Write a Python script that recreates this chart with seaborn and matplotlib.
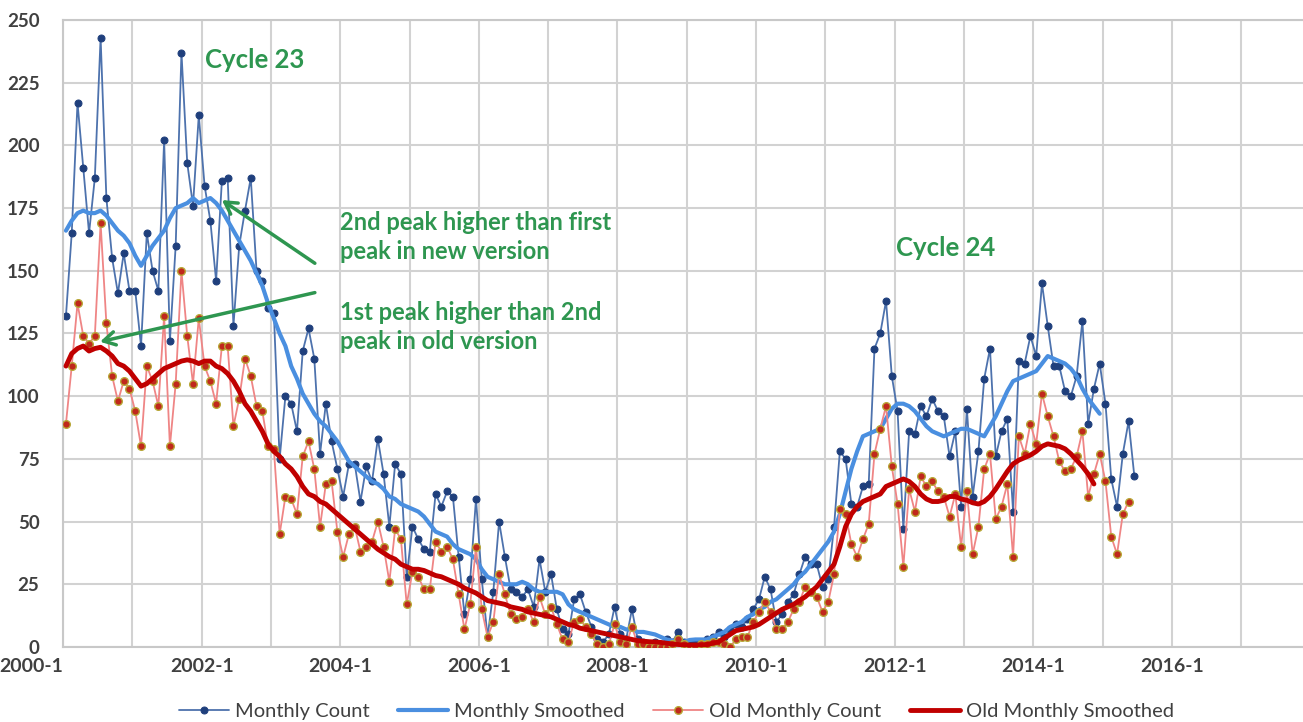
import numpy as np
import seaborn as sns
import matplotlib.pyplot as plt

# monthly values starting 2000-1
monthly_count = [
    132, 165, 217, 191, 165, 187, 243, 179, 155, 141,
    157, 142, 142, 120, 165, 150, 142, 202, 122, 160,
    237, 193, 176, 212, 184, 170, 146, 186, 187, 128,
    160, 174, 187, 150, 146, 135, 133, 75, 100, 97,
    86, 118, 127, 115, 77, 97, 82, 71, 60, 73,
    73, 58, 72, 66, 83, 69, 48, 73, 69, 28,
    48, 43, 39, 38, 61, 56, 62, 60, 36, 13,
    27, 59, 27, 4, 22, 50, 36, 23, 22, 20,
    23, 16, 35, 22, 29, 15, 7, 5, 19, 21,
    14, 8, 3, 2, 5, 16, 5, 3, 15, 3,
    2, 1, 2, 1, 3, 2, 6, 2, 1, 2,
    1, 3, 4, 6, 4, 7, 9, 8, 11, 15,
    19, 28, 23, 10, 13, 18, 21, 29, 36, 33,
    33, 24, 27, 48, 78, 75, 57, 56, 64, 65,
    119, 125, 138, 108, 94, 47, 86, 85, 96, 92,
    99, 94, 92, 76, 86, 56, 95, 60, 78, 107,
    119, 76, 86, 91, 54, 114, 113, 124, 116, 145,
    128, 112, 112, 102, 100, 108, 130, 89, 103, 113,
    97, 67, 56, 77, 90, 68,
]

monthly_smoothed = [
    166, 170, 173, 174, 173, 173, 174, 172, 169, 166,
    164, 161, 156, 152, 156, 160, 163, 166, 171, 175,
    176, 177, 179, 177, 178, 179, 177, 174, 170, 166,
    162, 158, 154, 149, 144, 137, 131, 125, 120, 112,
    107, 101, 97, 93, 90, 88, 85, 82, 78, 74,
    72, 70, 68, 66, 65, 63, 60, 59, 57, 56,
    55, 54, 52, 49, 46, 45, 44, 41, 39, 38,
    37, 35, 31, 28, 27, 26, 25, 25, 25, 26,
    25, 23, 22, 22, 22, 22, 21, 17, 15, 14,
    13, 12, 11, 10, 9, 8, 8, 7, 7, 6,
    6, 5.5, 5, 4, 3, 2.5, 2, 2, 2.8, 3,
    3, 3, 4, 5, 6, 8, 9, 10, 12, 13,
    15, 16, 18, 19, 21, 23, 25, 28, 30, 33,
    36, 39, 42, 46, 53, 62, 71, 78, 84, 85,
    86, 87, 91, 95, 97, 97, 96, 94, 91, 88,
    86, 85, 84, 85, 86, 87, 87, 86, 85, 84,
    88, 92, 97, 102, 106, 107, 108, 109, 110, 113,
    116, 115, 114, 113, 111, 108, 103, 99, 96, 93,
]

old_monthly_count = [
    89, 112, 137, 124, 121, 124, 169, 129, 108, 98,
    106, 103, 94, 80, 112, 106, 96, 132, 80, 105,
    150, 124, 105, 131, 112, 106, 97, 120, 120, 88,
    99, 115, 108, 96, 94, 80, 79, 45, 60, 59,
    53, 76, 82, 71, 48, 65, 66, 46, 36, 45,
    48, 38, 40, 42, 50, 40, 26, 47, 43, 17,
    30, 28, 23, 23, 42, 38, 40, 35, 21, 7,
    17, 40, 15, 4, 10, 29, 21, 13, 11, 12,
    15, 10, 20, 13, 16, 9, 3, 2, 10, 11,
    8, 5, 1, 0, 1, 9, 2, 1, 8, 1,
    1, 0, 0, 0, 0, 1, 3, 1, 0, 0,
    1, 1, 2, 2, 1, 0, 3, 4, 4, 10,
    14, 18, 14, 7, 7, 10, 15, 18, 24, 22,
    20, 14, 18, 29, 55, 53, 41, 36, 43, 49,
    77, 87, 96, 72, 57, 32, 63, 54, 68, 64,
    66, 62, 60, 52, 61, 40, 62, 37, 48, 71,
    77, 51, 56, 65, 36, 84, 77, 89, 81, 101,
    92, 84, 74, 70, 71, 76, 86, 60, 69, 77,
    66, 44, 37, 53, 58,
]

old_monthly_smoothed = [
    112, 117, 119, 120, 118, 119, 119.5, 118, 116, 113,
    112, 110, 107, 104, 105, 107, 109, 111, 112, 113,
    114, 114.5, 114, 113, 114, 114, 112, 111, 109, 106,
    102, 97, 94, 90, 86, 81, 78, 76, 73, 71,
    68, 64, 61, 60, 58, 57, 55, 53, 51, 49,
    47, 45, 43, 41, 39, 37.5, 36, 35, 33, 32,
    31, 31, 30.5, 29.5, 28.5, 28, 27, 26, 25, 23.5,
    22.5, 21.5, 20, 18.5, 18, 17.5, 17, 16, 15.5, 15,
    14, 13.5, 13, 12.5, 12, 11, 10, 9, 8.5, 7.5,
    7, 6.5, 6, 5.5, 5, 4.5, 4, 3.5, 3, 2.5,
    2.3, 2.1, 2, 1.8, 1.5, 1.2, 1, 0.8, 0.8, 0.8,
    0.8, 1, 1.5, 2, 3.5, 5, 6.5, 7, 7.5, 8,
    9, 10.5, 12, 13.5, 15, 16, 17, 18.5, 20, 22,
    24, 27, 30, 33, 40, 48, 53, 56, 58, 59,
    60, 61, 64, 65, 66, 67, 66, 64, 61, 59,
    58, 58, 58.5, 60, 60, 59, 58.5, 57.5, 57, 58,
    60, 63, 66.5, 70, 73, 74.5, 75.5, 76.5, 78, 80,
    81, 80.5, 80, 79, 77, 74.5, 72, 69, 65,
]

year_labels = ["2000-1", "2002-1", "2004-1", "2006-1",
               "2008-1", "2010-1", "2012-1", "2014-1", "2016-1"]

sns.set_theme(style="whitegrid")
plt.rcParams["font.family"] = ["Lato", "DejaVu Sans"]

fig = plt.figure(figsize=(13.03, 7.22), dpi=100)
ax = fig.add_axes([0.0484, 0.1039, 0.9516, 0.8684])


def month_x(vals):
    # Excel puts each monthly point in the middle of its month
    return np.arange(len(vals)) + 0.5


sns.lineplot(x=month_x(monthly_count), y=monthly_count, ax=ax,
             color="#4d72ad", lw=1.3, marker="o", markersize=5,
             markerfacecolor="#1f3f7c", markeredgecolor="#1f3f7c",
             label="Monthly Count", zorder=2)
sns.lineplot(x=month_x(monthly_smoothed), y=monthly_smoothed, ax=ax,
             color="#4a8fe0", lw=3, label="Monthly Smoothed", zorder=3)
sns.lineplot(x=month_x(old_monthly_count), y=old_monthly_count, ax=ax,
             color="#ef8585", lw=1.3, marker="o", markersize=5.5,
             markerfacecolor="#c0281c", markeredgecolor="#b8a838",
             markeredgewidth=1, label="Old Monthly Count", zorder=4)
sns.lineplot(x=month_x(old_monthly_smoothed), y=old_monthly_smoothed, ax=ax,
             color="#c00000", lw=3.5, label="Old Monthly Smoothed", zorder=5)

ax.set_xlim(0, 214.7)
ax.set_ylim(0, 250)
ax.set_xticks(np.arange(0, 216, 24))
ax.set_xticks(np.arange(0, 216, 12), minor=True)
ax.set_xticklabels(year_labels)
ax.set_yticks(np.arange(0, 251, 25))
ax.grid(which="both", color="#d2d2d2", lw=1.5)
ax.set_facecolor("white")
for side in ["left", "bottom", "top"]:
    ax.spines[side].set_color("#c8c8c8")
    ax.spines[side].set_linewidth(1.5)
ax.spines["right"].set_visible(False)
ax.tick_params(axis="y", labelsize=13.5, labelcolor="#404040", pad=17, length=0)
ax.tick_params(axis="x", labelsize=14, labelcolor="#404040", pad=8, length=0)
for lab in ax.get_xticklabels() + ax.get_yticklabels():
    lab.set_fontweight("bold")
ax.get_xticklabels()[0].set_ha("right")

green = "#2e9650"
ax.text(24.6, 234, "Cycle 23", color=green, fontsize=18.5, fontweight="bold",
        va="center", ha="left")
ax.text(144.2, 159, "Cycle 24", color=green, fontsize=18.5, fontweight="bold",
        va="center", ha="left")
ax.text(48, 163.5, "2nd peak higher than first\npeak in new version",
        color=green, fontsize=17, fontweight="bold", va="center",
        ha="left", linespacing=1.3)
ax.text(48, 127.6, "1st peak higher than 2nd\npeak in old version",
        color=green, fontsize=17, fontweight="bold", va="center",
        ha="left", linespacing=1.3)
arrow = dict(arrowstyle="->,head_length=0.7,head_width=0.4", color=green,
             lw=2.5, shrinkA=0, shrinkB=0)
ax.annotate("", xy=(27.5, 178.2), xytext=(43.6, 153), arrowprops=arrow,
            zorder=6)
ax.annotate("", xy=(6.4, 121.7), xytext=(43.6, 141.3), arrowprops=arrow,
            zorder=6)

leg = ax.legend(loc="center", bbox_to_anchor=(0.519, 0.014),
                bbox_transform=fig.transFigure, ncol=4, frameon=False,
                fontsize=14.5, handlelength=2.5, columnspacing=1.4,
                handletextpad=0.3)
for t in leg.get_texts():
    t.set_color("#404040")

fig.savefig("out.png", dpi=100)
